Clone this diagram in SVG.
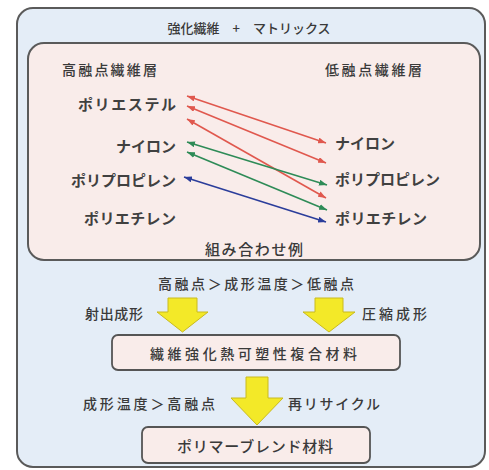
<svg xmlns="http://www.w3.org/2000/svg" width="489" height="470" viewBox="0 0 489 470">
<defs>
<style>
.t{font-family:"Noto Sans CJK JP","Noto Sans",sans-serif;fill:#3a3a3a;dominant-baseline:central;font-weight:500}
.b{font-weight:bold;fill:#404040}
.frame{stroke:#5a5a5a;stroke-width:2}
.box{fill:#f9ecea;stroke:#555;stroke-width:1.8}
.ya{fill:#f3e928;stroke:#c9ba1e;stroke-width:1}
.ln{fill:none;stroke-width:1.6}
</style>
<marker id="mr" viewBox="0 0 8 6" refX="8" refY="3" markerWidth="8" markerHeight="6" markerUnits="userSpaceOnUse" orient="auto-start-reverse"><path d="M0,0 L8,3 L0,6 z" fill="#e0584e"/></marker>
<marker id="mg" viewBox="0 0 8 6" refX="8" refY="3" markerWidth="8" markerHeight="6" markerUnits="userSpaceOnUse" orient="auto-start-reverse"><path d="M0,0 L8,3 L0,6 z" fill="#2e8b57"/></marker>
<marker id="mb" viewBox="0 0 8 6" refX="8" refY="3" markerWidth="8" markerHeight="6" markerUnits="userSpaceOnUse" orient="auto-start-reverse"><path d="M0,0 L8,3 L0,6 z" fill="#2b3d9b"/></marker>
</defs>
<rect width="489" height="470" fill="#ffffff"/>
<g id="outer">
<rect class="frame" x="17" y="8" width="468" height="459" rx="16" fill="#e4edf7"/>
<text class="t" x="249" y="27" font-size="13" text-anchor="middle" xml:space="preserve">強化繊維　+　マトリックス</text>
</g>
<g id="combo">
<rect class="frame" x="28" y="43" width="452" height="217" rx="16" fill="#f9ecea"/>
<text class="t" x="62" y="69" font-size="14" textLength="95">高融点繊維層</text>
<text class="t" x="325" y="69" font-size="14" textLength="97">低融点繊維層</text>
<text class="t" x="254" y="248" font-size="15" text-anchor="middle" textLength="98">組み合わせ例</text>
</g>
<g id="high">
<text class="t b" x="176" y="103" font-size="15" text-anchor="end" textLength="98">ポリエステル</text>
<text class="t b" x="176" y="145" font-size="15" text-anchor="end">ナイロン</text>
<text class="t b" x="176" y="179" font-size="15" text-anchor="end">ポリプロピレン</text>
<text class="t b" x="176" y="217" font-size="15" text-anchor="end" textLength="92">ポリエチレン</text>
</g>
<g id="low">
<text class="t b" x="335" y="142" font-size="15">ナイロン</text>
<text class="t b" x="335" y="178" font-size="15">ポリプロピレン</text>
<text class="t b" x="335" y="217" font-size="15" textLength="92">ポリエチレン</text>
</g>
<g id="connectors">
<line class="ln" x1="187" y1="96" x2="326" y2="143" stroke="#e0584e" marker-start="url(#mr)" marker-end="url(#mr)"/>
<line class="ln" x1="187" y1="106" x2="326" y2="163" stroke="#e0584e" marker-start="url(#mr)" marker-end="url(#mr)"/>
<line class="ln" x1="187" y1="119" x2="326" y2="198" stroke="#e0584e" marker-start="url(#mr)" marker-end="url(#mr)"/>
<line class="ln" x1="187" y1="142" x2="327" y2="185" stroke="#2e8b57" marker-start="url(#mg)" marker-end="url(#mg)"/>
<line class="ln" x1="187" y1="152" x2="327" y2="210" stroke="#2e8b57" marker-start="url(#mg)" marker-end="url(#mg)"/>
<line class="ln" x1="184" y1="177" x2="326" y2="222" stroke="#2b3d9b" marker-start="url(#mb)" marker-end="url(#mb)"/>
</g>
<g id="process1">
<text class="t" x="256" y="283" font-size="14" text-anchor="middle" textLength="196">高融点＞成形温度＞低融点</text>
<text class="t" x="85" y="313" font-size="14" textLength="58">射出成形</text>
<text class="t" x="362" y="313" font-size="14" textLength="65">圧縮成形</text>
<polygon class="ya" points="168,298 197,298 197,312 208,312 182.5,332 157,312 168,312"/>
<polygon class="ya" points="315,298 343,298 343,312 355,312 329,332 303,312 315,312"/>
</g>
<g id="composite">
<rect class="box" x="112" y="335" width="288" height="35" rx="6"/>
<text class="t" x="150" y="353" font-size="14" textLength="207">繊維強化熱可塑性複合材料</text>
</g>
<g id="process2">
<polygon class="ya" points="246,377 268,377 268,398 283,398 257,425 231,398 246,398"/>
<text class="t" x="83" y="403" font-size="14" textLength="132">成形温度＞高融点</text>
<text class="t" x="288" y="403" font-size="14" textLength="92">再リサイクル</text>
</g>
<g id="blend">
<rect class="box" x="142" y="427" width="228" height="36" rx="6"/>
<text class="t" x="177" y="445" font-size="15" textLength="156">ポリマーブレンド材料</text>
</g>
</svg>
